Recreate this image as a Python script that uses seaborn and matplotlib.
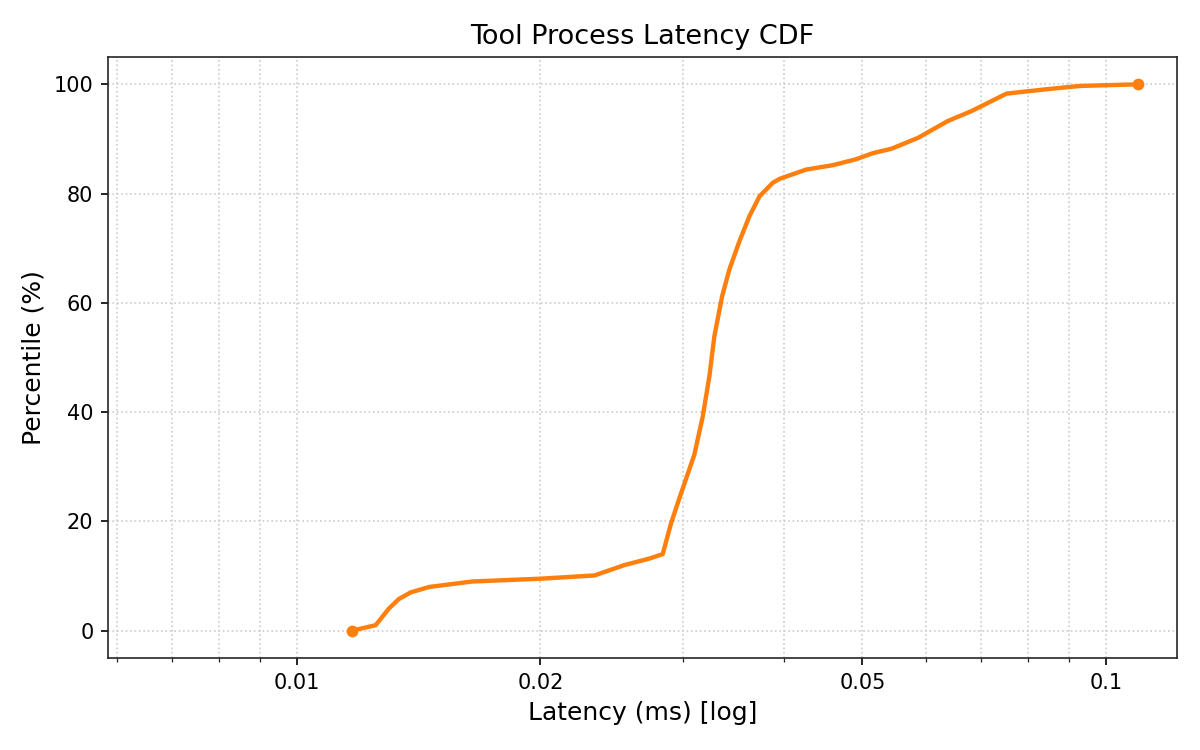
import numpy as np
import pandas as pd
import matplotlib
matplotlib.use("Agg")
import matplotlib.pyplot as plt
from matplotlib.ticker import FixedLocator, FixedFormatter, LogLocator, NullFormatter
import seaborn as sns

# ---- data ----
latency_ms = [0.01169, 0.01251, 0.01300, 0.01337, 0.01382, 0.01457, 0.01648,
              0.01993, 0.02332, 0.02539, 0.02727, 0.02832, 0.02901, 0.02971,
              0.03099, 0.03174, 0.03235, 0.03281, 0.03354, 0.03424, 0.03524,
              0.03626, 0.03731, 0.03876, 0.03951, 0.04262, 0.04597, 0.04914,
              0.05152, 0.05430, 0.05858, 0.06380, 0.06821, 0.07537, 0.08446,
              0.09286, 0.1096]
percentile = [0.0, 1.0, 4.1, 5.8, 7.0, 8.0, 9.0,
              9.5, 10.1, 12.0, 13.2, 14.0, 19.7, 24.3,
              32.2, 39.2, 46.6, 53.9, 61.2, 66.1, 71.3,
              75.9, 79.5, 82.0, 82.7, 84.4, 85.2, 86.3,
              87.4, 88.2, 90.2, 93.3, 95.1, 98.3, 99.1,
              99.7, 100.0]
x_ticks = [0.01, 0.02, 0.05, 0.1]
x_tick_labels = ["0.01", "0.02", "0.05", "0.1"]
x_limits = (0.00584, 0.1225)

df = pd.DataFrame({"latency": latency_ms, "pct": percentile})
ends = df.iloc[[0, -1]]

sns.set_style("ticks")
plt.rcParams["font.family"] = ["DejaVu Sans"]

fig, ax = plt.subplots(figsize=(8, 5), dpi=150)
fig.subplots_adjust(left=0.09, right=0.981, top=0.924, bottom=0.1227)
color = "#ff7f0e"
sns.lineplot(data=df, x="latency", y="pct", ax=ax, color=color, linewidth=2.1,
             sort=False, estimator=None)
sns.scatterplot(data=ends, x="latency", y="pct", ax=ax, color=color, s=32,
                edgecolor=color, linewidth=0, zorder=3)

ax.set_xscale("log")
ax.set_xlim(*x_limits)
ax.xaxis.set_major_locator(FixedLocator(x_ticks))
ax.xaxis.set_major_formatter(FixedFormatter(x_tick_labels))
ax.xaxis.set_minor_locator(LogLocator(base=10, subs=np.arange(2, 10)))
ax.xaxis.set_minor_formatter(NullFormatter())
ax.set_yticks([0, 20, 40, 60, 80, 100])

ax.grid(True, which="major", linestyle=":", color="#cccccc", linewidth=0.8)
ax.grid(True, which="minor", axis="x", linestyle=":", color="#cccccc", linewidth=0.8)

ax.set_title("Tool Process Latency CDF", fontsize=13, color="black")
ax.set_xlabel("Latency (ms) [log]", fontsize=12, color="black")
ax.set_ylabel("Percentile (%)", fontsize=12, color="black")
ax.tick_params(colors="black", labelsize=10)
for s in ax.spines.values():
    s.set_color("#262626")

fig.savefig("out.png", dpi=150)
